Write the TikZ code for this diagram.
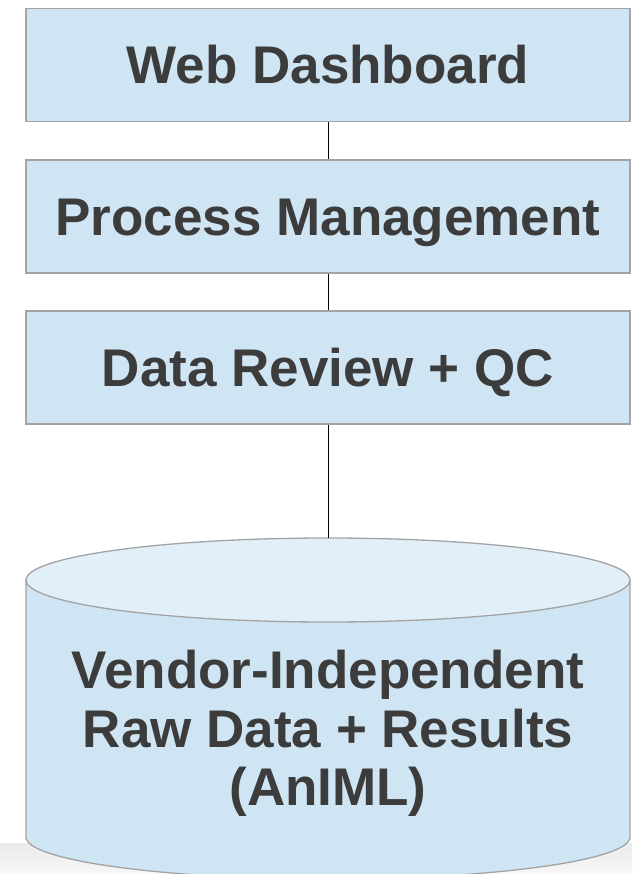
\documentclass[tikz,border=0pt]{standalone}
\usepackage{fontspec}
\setmainfont{Liberation Sans}
\definecolor{boxfill}{HTML}{CFE5F3}
\definecolor{capfill}{HTML}{E1EFF9}
\definecolor{edge}{HTML}{A3A3A3}
\definecolor{ink}{HTML}{3C3C3C}
\tikzset{
  layer/.style={draw=edge, line width=1.3pt, fill=boxfill, inner sep=0pt,
    minimum width=604pt, minimum height=113pt,
    text height=38pt, text depth=0pt, text=ink,
    font=\fontsize{53}{59}\selectfont\bfseries},
  dbline/.style={text=ink, font=\fontsize{53}{59}\selectfont\bfseries,
    inner sep=0pt, anchor=base},
  link/.style={draw=black, line width=1pt}
}
\begin{document}
\begin{tikzpicture}[x=1pt, y=-1pt]
  \useasboundingbox (0,0) rectangle (632,874);
  % soft grey band along the lower edge
  \shade[top color=black!8, bottom color=black!3] (0,843) rectangle (632,874);

  % stacked layers
  \node[layer] (web)  at (328,65)    {Web Dashboard};
  \node[layer] (proc) at (328,216.5) {Process Management};
  \node[layer] (qc)   at (328,367.5) {Data Review + QC};

  % data store cylinder (y axis points down, so the lower rim runs 180 -> 0)
  \coordinate (dbtop) at (328,538);
  \fill[boxfill] (26,580) -- (26,837) arc[start angle=180, end angle=0, x radius=302, y radius=42]
    -- (630,580) -- cycle;
  \draw[edge, line width=1.3pt] (26,580) -- (26,837) arc[start angle=180, end angle=0, x radius=302, y radius=42]
    -- (630,580);
  \draw[edge, line width=1.3pt, fill=capfill] (328,580) ellipse[x radius=302, y radius=42];

  \node[dbline] (db1) at (328,688) {Vendor-Independent};
  \node[dbline] (db2) at (328,747) {Raw Data + Results};
  \node[dbline] (db3) at (328,805) {(AnIML)};

  % connectors
  \draw[link] (web.south) -- (proc.north);
  \draw[link] (proc.south) -- (qc.north);
  \draw[link] (qc.south) -- (dbtop);
\end{tikzpicture}
\end{document}
